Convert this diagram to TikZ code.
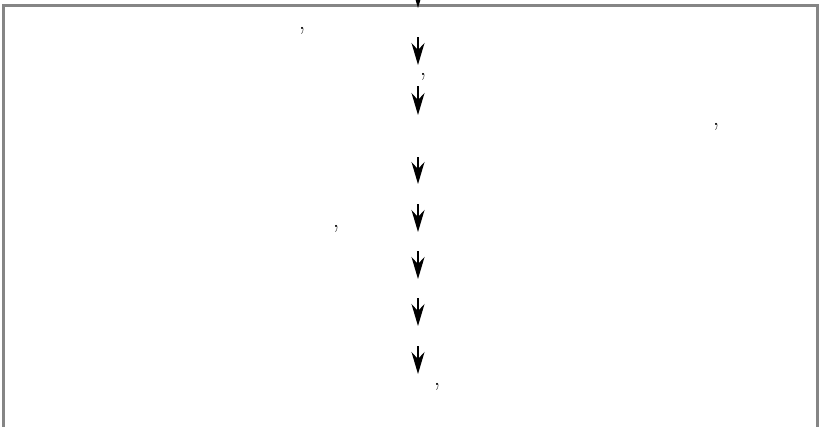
\documentclass[tikz,border=0pt]{standalone}
\definecolor{framegray}{HTML}{858585}
\usetikzlibrary{arrows.meta}
\begin{document}
\begin{tikzpicture}[x=1pt, y=-1pt,
  >={Stealth[length=22pt, width=13pt, inset=7pt]},
  flow/.style={->, line width=1.3pt},
  sep/.style={inner sep=0pt, font=\fontsize{26}{30}\selectfont}]
  \useasboundingbox (0,0) rectangle (821,426);
  \draw[framegray, line width=3pt] (3.5,5.5) rectangle (817.5,470);
  % incoming arrow from above the frame
  \coordinate (in) at (418,-40);
  \coordinate (top) at (418,8);
  \draw[flow] (in) -- (top);
  % arrows down the flow
  \foreach \i/\from/\to in {1/37/65, 2/86/115, 3/157/184, 4/204/232, 5/251/279, 6/298/326, 7/346/374} {
    \coordinate (s\i) at (418,\from);
    \coordinate (e\i) at (418,\to);
    \draw[flow] (s\i) -- (e\i);
  }
  % the commas left of the text lines
  \foreach \n/\x/\y in {1/302/31, 2/423/77, 3/716/127, 4/336/229, 5/437/387}
    \node[sep] (c\n) at (\x,\y) {,};
\end{tikzpicture}
\end{document}
